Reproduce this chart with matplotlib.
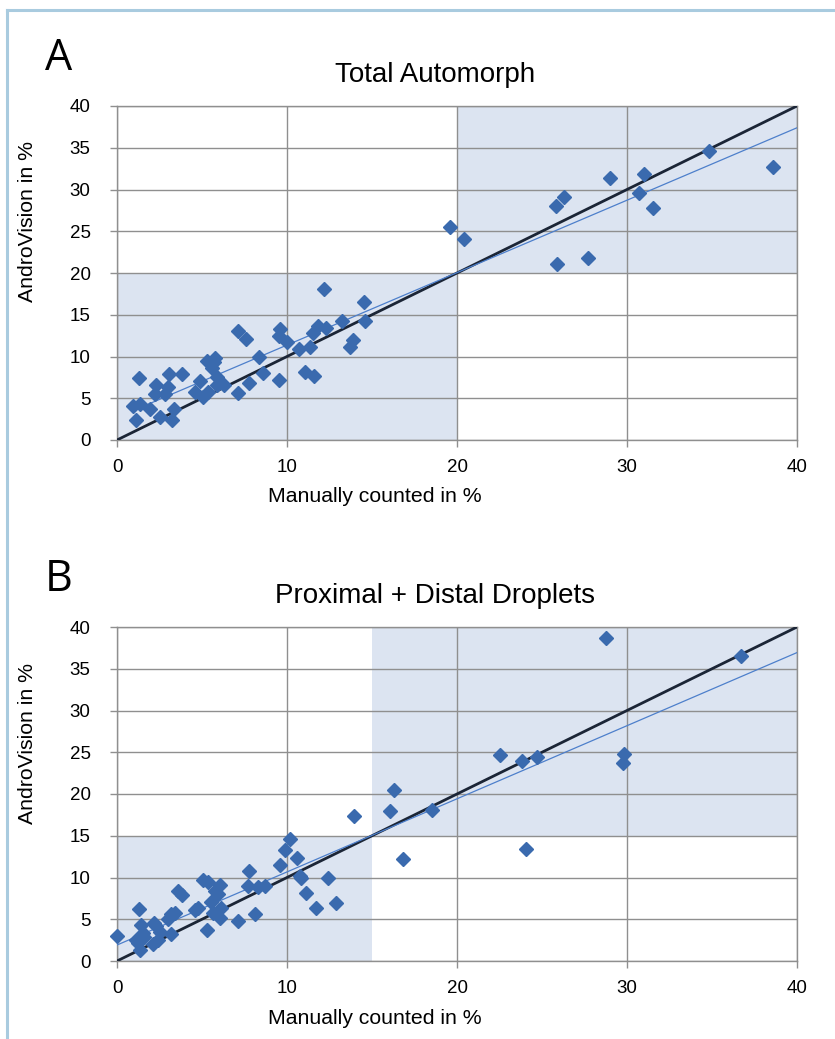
import numpy as np
import matplotlib
matplotlib.use('Agg')
import matplotlib.pyplot as plt
from matplotlib.patches import Rectangle
from matplotlib.lines import Line2D

# A: Total Automorph (manual %, AndroVision %)
a_manual = [1.27, 0.97, 1.36, 1.13, 1.95, 2.5, 2.28, 2.24, 2.83, 3.02, 3.08, 3.37, 3.22,
            3.84, 4.58, 4.87, 5.07, 5.36, 5.3, 5.75, 5.6, 5.7, 5.9, 5.9, 6.3, 7.1, 7.1,
            7.56, 7.76, 8.38, 8.58, 9.5, 9.6, 9.5, 10.0, 10.7, 11.07, 11.36, 11.6, 11.5,
            11.8, 12.2, 12.3, 13.25, 13.7, 13.9, 14.5, 14.56,
            19.6, 20.43, 25.8, 26.3, 25.9, 27.7, 29.0, 30.7, 31.0, 31.55, 34.85, 38.6]
a_andro = [7.4, 4.08, 4.32, 2.4, 3.72, 2.8, 6.6, 5.5, 5.5, 6.4, 7.9, 3.7, 2.4,
           7.9, 5.7, 7.1, 5.2, 5.7, 9.5, 9.8, 8.6, 9.3, 7.6, 6.6, 6.6, 13.0, 5.6,
           12.1, 6.8, 9.9, 8.0, 7.2, 13.3, 12.5, 11.7, 10.9, 8.1, 11.1, 7.7, 12.8,
           13.6, 18.1, 13.4, 14.2, 11.1, 12.0, 16.5, 14.2,
           25.46, 24.1, 28.0, 29.1, 21.1, 21.8, 31.4, 29.6, 31.8, 27.75, 34.66, 32.7]

# B: Proximal + Distal Droplets
b_manual = [0.0, 1.3, 1.14, 1.33, 1.4, 1.53, 1.6, 1.24, 2.18, 2.27, 2.5, 2.1, 2.4,
            3.16, 3.0, 3.2, 3.4, 3.6, 3.8, 4.57, 4.76, 5.06, 5.35, 5.3, 5.55, 5.75,
            6.04, 5.94, 5.65, 6.04, 6.1, 7.1, 7.7, 7.75, 8.1, 8.3, 8.7, 9.6, 9.86,
            10.2, 10.6, 10.75, 10.8, 11.1, 11.7, 12.4, 12.9, 13.94,
            16.08, 16.3, 16.84, 18.5, 22.5, 23.84, 24.7, 24.04, 28.75, 29.8, 29.76, 36.7]
b_andro = [3.04, 6.2, 2.5, 1.3, 4.3, 3.4, 2.9, 2.1, 4.5, 4.2, 3.5, 2.0, 2.5,
           3.2, 5.0, 5.6, 5.7, 8.4, 7.9, 6.1, 6.3, 9.7, 9.5, 3.7, 7.1, 8.4,
           9.1, 8.0, 5.7, 5.2, 6.3, 4.8, 9.0, 10.8, 5.6, 8.9, 9.0, 11.5, 13.3,
           14.6, 12.3, 10.2, 9.9, 8.1, 6.4, 9.9, 6.9, 17.4,
           17.96, 20.5, 12.2, 18.1, 24.7, 23.9, 24.4, 13.4, 38.7, 24.8, 23.7, 36.5]

panels = [
    ('A', 'Total Automorph', a_manual, a_andro, 20),
    ('B', 'Proximal + Distal Droplets', b_manual, b_andro, 15),
]

W, H = 835, 1039
fig = plt.figure(figsize=(W / 100, H / 100), dpi=100)
plt.rcParams['font.family'] = ['Liberation Sans', 'DejaVu Sans']

shade = '#DCE4F1'
grid_c = '#8F8F8F'
marker_c = '#3A6AAE'


def px(x, y):
    return x / W, 1 - y / H


def draw_panel(ax, x, y, split):
    ax.set_xlim(0, 40)
    ax.set_ylim(0, 40)
    ax.add_patch(Rectangle((0, 0), split, split, color=shade, lw=0, zorder=0))
    ax.add_patch(Rectangle((split, split), 40 - split, 40 - split, color=shade, lw=0, zorder=0))
    ax.set_xticks([0, 10, 20, 30, 40])
    ax.set_yticks(range(0, 41, 5))
    ax.grid(True, color=grid_c, lw=1, zorder=1)
    ax.set_axisbelow(False)
    for s in ax.spines.values():
        s.set_color(grid_c)
        s.set_linewidth(1)
    ax.tick_params(direction='out', length=5, width=1, color=grid_c,
                   labelsize=13.5)
    ax.tick_params(axis='x', pad=9)
    ax.tick_params(axis='y', pad=14)
    # identity line
    ax.plot([0, 40], [0, 40], color='#1B2536', lw=2.0, zorder=3)
    # linear trend
    k, b = np.polyfit(x, y, 1)
    xs = np.array([min(x), 40])
    ax.plot(xs, k * xs + b, color='#4D7FCB', lw=0.9, zorder=3)
    ax.plot(x, y, 'D', ms=7.5, color=marker_c, mec=marker_c, zorder=4, clip_on=False)


tops = [106, 627]
for (letter, title, x, y, split), top in zip(panels, tops):
    l, t = px(117, top)
    r, b = px(797, top + 334)
    ax = fig.add_axes([l, b, r - l, t - b])
    draw_panel(ax, x, y, split)
    fig.text(*px(45, top - 36), letter, fontsize=31, family=['Open Sans', 'DejaVu Sans'],
             ha='left', va='baseline')
    fig.text(*px(435, top - 24), title, fontsize=20, ha='center', va='baseline')
    fig.text(*px(375, top + 391), 'Manually counted in %', fontsize=15.3, ha='center', va='center')
    fig.text(*px(28, top + 116), 'AndroVision in %', fontsize=15.3, ha='center', va='center',
             rotation=90)

# light blue outer frame
fig.add_artist(Line2D([7 / W, 7 / W], [0, 1 - 10 / H], color='#A9CBDF', lw=2.2))
fig.add_artist(Line2D([7 / W, 1], [1 - 10 / H, 1 - 10 / H], color='#A9CBDF', lw=2.2))

fig.savefig('out.png', dpi=100)
